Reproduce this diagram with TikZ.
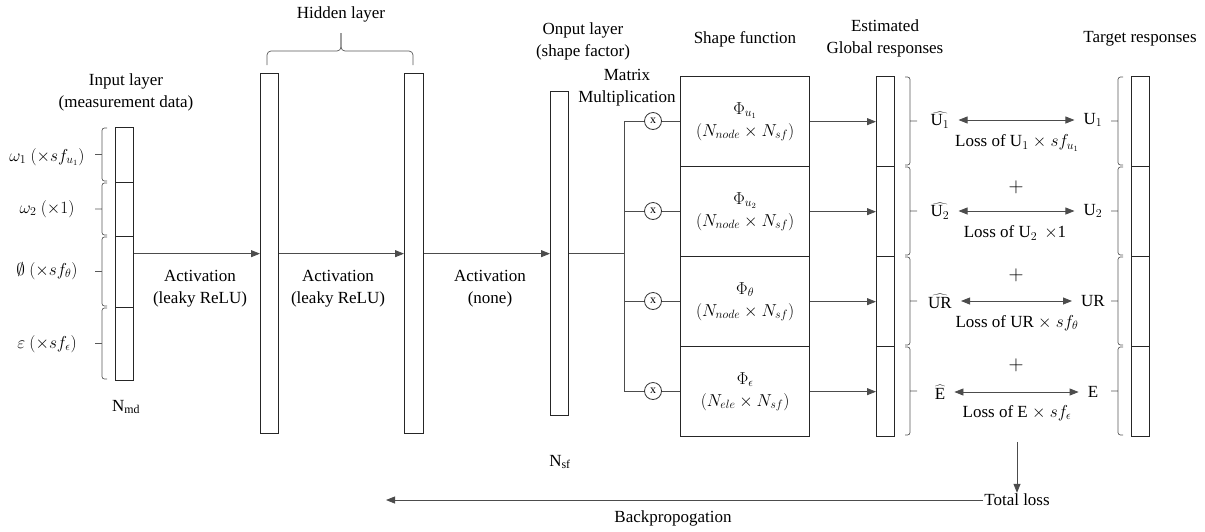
\documentclass[tikz,border=0pt]{standalone}
\usepackage{fontspec}
\setmainfont{Liberation Serif}
\usetikzlibrary{arrows.meta,calc}
\newcommand\mybrk[4]{%
  \draw[brk] ({#1+#4},{#2+1}) -- (#1,{#2+1}) -- (#1,{#3-1}) -- ({#1+#4},{#3-1})
    (#1,{(#2+#3)/2}) -- ({#1-#4*1.4},{(#2+#3)/2});}
\begin{document}
\begin{tikzpicture}[x=1pt,y=-1pt,
  font=\fontsize{17}{22}\selectfont,
  bar/.style={draw=black!85,line width=1.3pt,inner sep=0pt,anchor=north west},
  conn/.style={draw=black!70,line width=0.8pt},
  arr/.style={conn,-{Triangle[length=9pt,width=7pt]}},
  darr/.style={conn,{Triangle[length=9pt,width=7pt]}-{Triangle[length=9pt,width=7pt]},shorten <=9pt,shorten >=9pt},
  brk/.style={draw=black!65,line width=0.7pt,rounded corners=2.5pt},
  lbl/.style={align=center,inner sep=1pt},
  hat/.style={inner sep=0pt},
  mult/.style={circle,draw=black!80,line width=0.8pt,minimum size=17pt,inner sep=0pt,fill=white,font=\fontsize{12}{12}\selectfont}]
\useasboundingbox (0,0) rectangle (1205,531);

% ---------- input layer ----------
\node[bar,minimum width=18pt,minimum height=55pt] (in1) at (115,127) {};
\node[bar,minimum width=18pt,minimum height=54pt] (in2) at (115,182) {};
\node[bar,minimum width=18pt,minimum height=71pt] (in3) at (115,236) {};
\node[bar,minimum width=18pt,minimum height=73pt] (in4) at (115,307) {};
\mybrk{102}{127}{182}{5}
\mybrk{102}{182}{236}{5}
\mybrk{102}{236}{307}{5}
\mybrk{102}{307}{380}{5}
\node[lbl] (tin) at (126,92) {Input layer\\(measurement data)};
\node[lbl] (w1) at (47,157) {$\omega_1\ (\times sf_{u_1})$};
\node[lbl] (w2) at (47,209) {$\omega_2\ (\times 1)$};
\node[lbl] (w3) at (47,271) {$\emptyset\ (\times sf_\theta)$};
\node[lbl] (w4) at (47,344) {$\varepsilon\ (\times sf_\epsilon)$};
\node[lbl] (nmd) at (126,407) {N\textsubscript{md}};

% ---------- hidden layers ----------
\node[bar,minimum width=18pt,minimum height=360pt] (h1) at (260,73) {};
\node[bar,minimum width=19pt,minimum height=360pt] (h2) at (404,73) {};
\draw[brk,rounded corners=4pt] (267,65) -- (267,51) -- (341,51) -- (341,33);
\draw[brk,rounded corners=4pt] (413,65) -- (413,51) -- (341,51) -- (341,33);
\node[lbl] (thid) at (341,14) {Hidden layer};

% ---------- output layer ----------
\node[bar,minimum width=18pt,minimum height=324pt] (o) at (550,91) {};
\node[lbl] (tout) at (583,41) {Onput layer\\(shape factor)};
\node[lbl] (nsf) at (560,462) {N\textsubscript{sf}};

\draw[arr] (in3.east |- h1.west) -- (h1.west);
\draw[arr] (h1.east) -- (h2.west);
\draw[arr] (h2.east) -- (o.west);
\node[lbl] (a1) at (200,289) {Activation\\(leaky ReLU)};
\node[lbl] (a2) at (338,289) {Activation\\(leaky ReLU)};
\node[lbl] (a3) at (490,289) {Activation\\(none)};

% ---------- shape functions ----------
\node[bar,minimum width=129pt,minimum height=90pt] (s1) at (680,76) {};
\node[bar,minimum width=129pt,minimum height=90pt] (s2) at (680,166) {};
\node[bar,minimum width=129pt,minimum height=90pt] (s3) at (680,256) {};
\node[bar,minimum width=129pt,minimum height=90pt] (s4) at (680,346) {};
\node[lbl] (p1) at (s1.center) {$\Phi_{u_1}$\\$(N_{node}\times N_{sf})$};
\node[lbl] (p2) at (s2.center) {$\Phi_{u_2}$\\$(N_{node}\times N_{sf})$};
\node[lbl] (p3) at (s3.center) {$\Phi_{\theta}$\\$(N_{node}\times N_{sf})$};
\node[lbl] (p4) at (s4.center) {$\Phi_{\epsilon}$\\$(N_{ele}\times N_{sf})$};
\node[lbl] (tsh) at (745,39) {Shape function};
\node[lbl] (tmm) at (627,88) {Matrix\\Multiplication};

\coordinate (j) at (624,253);
\node[mult] (m1) at (653,121) {x};
\node[mult] (m2) at (653,211) {x};
\node[mult] (m3) at (653,301) {x};
\node[mult] (m4) at (653,391) {x};
\draw[conn] (o.east |- j) -- (j);
\draw[conn] (j |- m1) -- (j |- m4);
\foreach \i in {1,...,4}{
  \draw[conn] (j |- m\i) -- (m\i) -- (s\i.west |- m\i);
}

% ---------- estimated responses ----------
\node[bar,minimum width=18pt,minimum height=90pt] (e1) at (876,76) {};
\node[bar,minimum width=18pt,minimum height=90pt] (e2) at (876,166) {};
\node[bar,minimum width=18pt,minimum height=90pt] (e3) at (876,256) {};
\node[bar,minimum width=18pt,minimum height=90pt] (e4) at (876,346) {};
\foreach \i in {1,...,4}{
  \draw[arr] (s\i.east) -- (e\i.west);
}
\mybrk{910}{76}{166}{-5}
\mybrk{910}{166}{256}{-5}
\mybrk{910}{256}{346}{-5}
\mybrk{910}{346}{436}{-5}
\node[lbl] (test) at (885,38) {Estimated\\Global responses};

% ---------- target responses ----------
\node[bar,minimum width=18pt,minimum height=90pt] (t1) at (1131,76) {};
\node[bar,minimum width=18pt,minimum height=90pt] (t2) at (1131,166) {};
\node[bar,minimum width=18pt,minimum height=90pt] (t3) at (1131,256) {};
\node[bar,minimum width=18pt,minimum height=90pt] (t4) at (1131,346) {};
\mybrk{1118}{76}{166}{5}
\mybrk{1118}{166}{256}{5}
\mybrk{1118}{256}{346}{5}
\mybrk{1118}{346}{436}{5}
\node[lbl] (ttar) at (1140,39) {Target responses};

% ---------- losses ----------
\node[hat] (hu1) at (940,120) {$\widehat{\mathrm{U}_1}$};
\node[hat] (hu2) at (940,211) {$\widehat{\mathrm{U}_2}$};
\node[hat] (hur) at (940,301) {$\widehat{\mathrm{UR}}$};
\node[hat] (he) at (940,392) {$\widehat{\mathrm{E}}$};
\node[hat] (tu1) at (1093,120) {U$_1$};
\node[hat] (tu2) at (1093,211) {U$_2$};
\node[hat] (tur) at (1093,301) {UR};
\node[hat] (te) at (1093,392) {E};
\draw[darr] (hu1.east |- 0,120) -- (tu1.west |- 0,120);
\draw[darr] (hu2.east |- 0,211) -- (tu2.west |- 0,211);
\draw[darr] (hur.east |- 0,301) -- (tur.west |- 0,301);
\draw[darr] (he.east |- 0,392) -- (te.west |- 0,392);
\node[lbl] (l1) at (1017,143) {Loss of U$_1$ $\times$ $sf_{u_1}$};
\node[lbl] (l2) at (1015,233) {Loss of U$_2$ \,$\times$1};
\node[lbl] (l3) at (1017,323) {Loss of UR $\times$ $sf_{\theta}$};
\node[lbl] (l4) at (1017,413) {Loss of E $\times$ $sf_{\epsilon}$};
\node[lbl,font=\fontsize{22}{22}\selectfont] (pl1) at (1016,187) {$+$};
\node[lbl,font=\fontsize{22}{22}\selectfont] (pl2) at (1016,275) {$+$};
\node[lbl,font=\fontsize{22}{22}\selectfont] (pl3) at (1016,365) {$+$};

\node[lbl] (tl) at (1017,500) {Total loss};
\coordinate (bp) at (386,500);
\draw[arr,shorten <=20pt] (l4.south -| tl) -- (tl.north);
\draw[arr] (tl.west) -- (bp);
\node[lbl] (tbp) at (673,518) {Backpropogation};
\end{tikzpicture}
\end{document}
